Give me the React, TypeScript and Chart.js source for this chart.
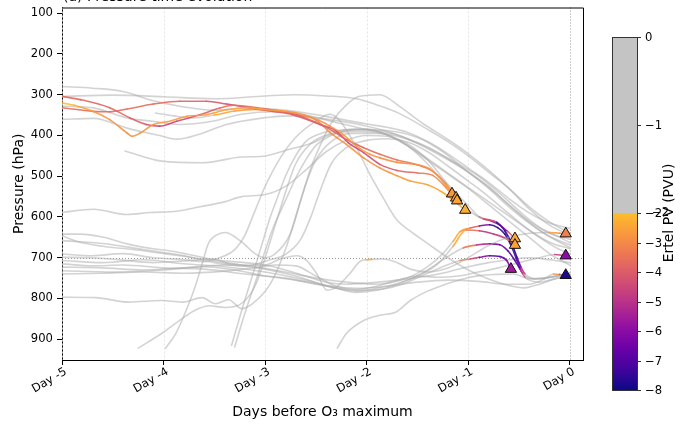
import React, { useEffect, useRef } from "react";
import { Chart, registerables } from "chart.js";

Chart.register(...registerables);

const FONT = "'DejaVu Sans', 'Liberation Sans', sans-serif";

// ---- axes / ticks ----
const X_TICKS = [-5, -4, -3, -2, -1, 0];
const Y_TICKS = [100, 200, 300, 400, 500, 600, 700, 800, 900];
const X_MIN = -5;
const X_MAX = 0.13;
const Y_MIN = 86;
const Y_MAX = 951;
const REF_PRESSURE = 700;
const REF_DAY = 0;
const CB_TICKS = [0, -1, -2, -3, -4, -5, -6, -7, -8];
const PV_MIN = -8;
const PV_CUT = -2;

// ---- trajectories: [day, pressure(hPa), PV(PVU) optional] ----
const trajG1 = [[-5,280],[-4.7,284],[-4.4,292],[-4.1,315],[-3.8,330],[-3.5,338],[-3.2,334],[-2.9,336],[-2.6,345],[-2.3,358],[-2.0,372],[-1.8,380],[-1.6,392],[-1.4,415],[-1.2,445],[-1.0,480],[-0.8,515],[-0.6,555],[-0.4,590],[-0.2,615],[0,628]];
const trajG2 = [[-5,304],[-4.5,301],[-4.0,305],[-3.5,310],[-3.0,303],[-2.7,300],[-2.4,303],[-2.1,310],[-1.9,325],[-1.67,347],[-1.4,385],[-1.2,415],[-1.0,450],[-0.8,490],[-0.6,530],[-0.4,575],[-0.2,612],[0,640]];
const trajU3 = [[-5,361],[-4.69,358],[-4.36,382],[-4.04,400],[-3.87,409],[-3.65,397],[-3.38,373],[-3.05,358],[-2.73,352],[-2.4,360],[-2.1,372],[-1.8,390],[-1.5,420],[-1.2,460],[-1.0,490],[-0.8,525],[-0.6,570],[-0.4,610],[-0.2,640],[0,655]];
const trajU4 = [[-5,328],[-4.68,333],[-4.34,358],[-4.11,365],[-3.85,373],[-3.52,365],[-3.23,348],[-2.9,342],[-2.6,350],[-2.3,368],[-2.0,385],[-1.7,398],[-1.4,430],[-1.1,470],[-0.9,500],[-0.7,540],[-0.5,585],[-0.3,625],[-0.1,650],[0,663]];
const trajLa = [[-5,642],[-4.82,642],[-4.59,650],[-4.36,666],[-4.1,678],[-3.94,683],[-3.77,691],[-3.5,705],[-3.2,712],[-3.0,718],[-2.8,730],[-2.6,745],[-2.4,760],[-2.2,765],[-2.0,762],[-1.8,758],[-1.6,752],[-1.4,745],[-1.2,735],[-1.0,722],[-0.8,712],[-0.6,705],[-0.4,700],[-0.2,705],[0,712]];
const trajD1 = [[-5,691],[-4.7,695],[-4.4,690],[-4.1,700],[-3.8,705],[-3.6,710],[-3.45,700],[-3.3,680],[-3.2,645],[-3.1,585],[-3.0,525],[-2.85,455],[-2.7,405],[-2.5,365],[-2.36,348],[-2.26,365],[-2.1,430],[-1.97,495],[-1.84,552],[-1.71,605],[-1.57,635],[-1.4,665],[-1.2,700],[-1.0,730],[-0.8,752],[-0.6,768],[-0.45,774],[-0.3,765],[-0.15,752],[0,742]];
const trajAsc1 = [[-4.25,922],[-4.02,886],[-3.82,850],[-3.69,829],[-3.55,818],[-3.4,822],[-3.25,815],[-3.1,770],[-3.0,700],[-2.9,620],[-2.8,540],[-2.7,470],[-2.55,420],[-2.35,395],[-2.1,385],[-1.8,388],[-1.5,405],[-1.25,440],[-1.0,490],[-0.8,530],[-0.6,575],[-0.4,615],[-0.2,648],[0,668]];
const trajL800 = [[-5,797],[-4.67,798],[-4.34,809],[-4.02,805],[-3.82,809],[-3.62,798],[-3.49,813],[-3.36,803],[-3.23,825],[-3.12,812],[-2.95,765],[-2.8,680],[-2.7,600],[-2.6,520],[-2.5,460],[-2.35,415],[-2.15,395],[-1.9,395],[-1.7,402],[-1.4,428],[-1.15,465],[-0.9,508],[-0.7,548],[-0.5,592],[-0.3,632],[-0.1,662],[0,675]];
const trajAsc2 = [[-3.98,922],[-3.88,886],[-3.79,837],[-3.69,772],[-3.62,715],[-3.56,666],[-3.46,642],[-3.39,638],[-3.29,650],[-3.2,668],[-3.1,690],[-3.0,700],[-2.9,690],[-2.75,640],[-2.65,560],[-2.55,480],[-2.45,420],[-2.35,370],[-2.2,325],[-2.07,304],[-1.87,300],[-1.67,330],[-1.45,370],[-1.2,410],[-1.0,445],[-0.8,485],[-0.6,530],[-0.4,580],[-0.2,620],[0,645]];
const trajAsc3 = [[-3.33,915],[-3.23,829],[-3.13,748],[-3.03,666],[-2.95,601],[-2.89,560],[-2.8,500],[-2.7,450],[-2.6,415],[-2.45,395],[-2.3,388],[-2.1,385],[-1.9,390],[-1.7,410],[-1.5,440],[-1.3,475],[-1.1,510],[-0.9,545],[-0.7,580],[-0.5,615],[-0.3,650],[-0.1,680],[0,690]];
const trajAsc4 = [[-3.3,919],[-3.2,837],[-3.08,748],[-3.0,683],[-2.92,626],[-2.8,560],[-2.7,505],[-2.6,460],[-2.5,425],[-2.35,400],[-2.2,388],[-2.0,385],[-1.8,398],[-1.6,425],[-1.4,460],[-1.2,495],[-1.0,530],[-0.8,570],[-0.6,610],[-0.4,650],[-0.2,690],[0,718]];
const trajLi = [[-5,658],[-4.6,665],[-4.2,680],[-3.8,695],[-3.5,712],[-3.2,720],[-2.95,705],[-2.8,692],[-2.65,655],[-2.55,600],[-2.45,530],[-2.35,470],[-2.2,430],[-2.0,412],[-1.8,408],[-1.6,416],[-1.4,440],[-1.2,475],[-1.0,512],[-0.8,550],[-0.6,592],[-0.4,632],[-0.2,662],[0,678]];
const trajAsc5 = [[-2.29,922],[-2.2,886],[-2.03,854],[-1.87,841],[-1.71,833],[-1.57,805],[-1.4,782],[-1.21,764],[-1.05,752],[-0.89,744],[-0.72,741],[-0.56,740],[-0.39,752],[-0.2,748],[0,740]];

const trajO1 = [[-5,320,-2.3],[-4.96,322,-1.8],[-4.92,324,-2.3],[-4.88,326,-1.8],[-4.84,329,-2.4],[-4.69,341,-2.6],[-4.53,361,-2.8],[-4.36,394,-2.9],[-4.31,402,-2.9],[-4.23,394,-2.8],[-4.1,373,-2.7],[-3.94,365,-2.6],[-3.77,353,-2.7],[-3.58,349,-2.5],[-3.38,337,-2.6],[-3.18,332,-2.4],[-2.99,337,-2.5],[-2.79,341,-2.7],[-2.62,349,-2.8],[-2.49,361,-2.9],[-2.36,377,-2.8],[-2.23,398,-2.7],[-2.1,426,-2.6],[-1.97,446,-2.7],[-1.87,455,-2.8],[-1.7,466,-2.9],[-1.5,472,-2.9],[-1.38,482,-2.8],[-1.28,503,-2.7],[-1.16,543,-2.7]];
const trajR1 = [[-5,304,-3.7],[-4.82,312,-3.8],[-4.53,332,-3.8],[-4.33,357,-3.7],[-4.17,373,-4.2],[-4.04,377,-4.6],[-3.87,365,-4.5],[-3.64,349,-4.3],[-3.44,332,-3.6],[-3.31,326,-3.5],[-3.02,334,-3.6],[-2.69,349,-3.8],[-2.49,369,-3.9],[-2.36,385,-3.8],[-2.2,410,-3.9],[-2.03,430,-3.8],[-1.87,446,-3.6],[-1.7,460,-3.5],[-1.5,472,-3.4],[-1.35,488,-3.2],[-1.22,518,-3.0],[-1.12,553,-2.7]];
const trajR2 = [[-5,332,-3.6],[-4.69,341,-3.7],[-4.53,342,-3.7],[-4.36,335,-3.6],[-4.1,323,-3.6],[-3.84,316,-3.7],[-3.58,316,-3.9],[-3.38,323,-4.4],[-3.18,331,-4.2],[-2.92,341,-3.9],[-2.73,349,-4.0],[-2.46,373,-4.1],[-2.3,389,-4.3],[-2.18,418,-4.4],[-2.03,442,-4.5],[-1.87,471,-4.3],[-1.7,486,-4.0],[-1.5,492,-3.6],[-1.35,498,-3.2],[-1.22,528,-2.9],[-1.11,560,-2.6]];
const trajO2 = [[-4.08,345],[-3.9,352],[-3.7,357],[-3.5,350,-2.3],[-3.3,340,-2.6],[-3.1,336,-2.8],[-2.9,340,-2.9],[-2.7,348,-3.0],[-2.5,362,-3.0],[-2.36,393,-2.9],[-2.2,422,-2.8],[-2.03,455,-2.8],[-1.87,480,-2.7],[-1.7,499,-2.7],[-1.57,512,-2.6],[-1.4,521,-2.5],[-1.25,540,-2.4],[-1.03,583,-2.3]];
const trajLb = [[-5,699],[-4.7,700],[-4.4,706],[-4.1,712],[-3.8,708],[-3.5,703],[-3.35,715],[-3.02,719],[-2.85,703],[-2.69,695],[-2.59,707],[-2.49,740],[-2.39,780],[-2.3,772],[-2.17,740],[-2.06,708],[-2.0,705,-2.4],[-1.95,704,-2.4],[-1.84,703],[-1.71,711],[-1.57,728],[-1.4,735],[-1.2,725],[-1.0,700],[-0.8,670],[-0.6,650],[-0.4,640],[-0.2,638,-2.4],[-0.1,640,-2.8],[-0.04,641,-3.1]];
const trajLc = [[-5,707],[-4.6,712],[-4.2,705],[-3.8,715],[-3.4,722],[-3.0,735],[-2.6,755],[-2.3,775],[-2.1,785],[-1.9,780],[-1.7,765],[-1.5,745],[-1.3,715],[-1.15,672,-2.2],[-1.02,632,-2.6],[-0.89,634,-4.5],[-0.75,642,-5.5],[-0.62,654,-4.0],[-0.54,669,-2.8]];
const trajLd = [[-5,715],[-4.7,720],[-4.4,718],[-4.0,725],[-3.6,728],[-3.2,740],[-2.8,750],[-2.5,765],[-2.2,778],[-2.0,780],[-1.8,775],[-1.6,760],[-1.4,738],[-1.25,722],[-1.08,707,-2.5],[-0.98,703,-3.8],[-0.89,699,-5.2],[-0.79,695,-6.8],[-0.69,697,-7.2],[-0.62,707,-6.5],[-0.58,728,-5.8]];
const trajLe = [[-5,723],[-4.6,725],[-4.2,730],[-3.8,725],[-3.4,718],[-3.0,728],[-2.7,745],[-2.4,768],[-2.1,782],[-1.9,775],[-1.6,755],[-1.4,730],[-1.25,705],[-1.05,676,-2.6],[-0.92,669,-4.3],[-0.79,666,-6.0],[-0.69,668,-6.6],[-0.61,683,-7.0],[-0.54,707,-7.3],[-0.49,728,-6.5],[-0.46,740,-3.5],[-0.35,752],[-0.2,748],[0,738]];
const trajLh = [[-5,646],[-4.85,660],[-4.6,672],[-4.3,680],[-4.0,690],[-3.7,700],[-3.4,712],[-3.1,722],[-2.8,735],[-2.5,750],[-2.2,760],[-1.9,765],[-1.6,750],[-1.4,722],[-1.25,690],[-1.15,660,-2.2],[-1.08,636,-2.5],[-0.98,627,-2.9],[-0.89,622,-5.0],[-0.79,619,-7.4],[-0.71,626,-7.7],[-0.64,642,-7.6],[-0.57,675,-7.5],[-0.52,707,-7.0],[-0.48,732,-6.0],[-0.44,748,-3.0],[-0.3,760],[-0.15,752],[0,745]];
const trajU5 = [[-4.38,438],[-4.02,463],[-3.62,467],[-3.23,453],[-3.02,451],[-2.76,434],[-2.53,418],[-2.36,398],[-2.1,390],[-1.8,398],[-1.6,425],[-1.4,470],[-1.2,530],[-1.0,583],[-0.85,605,-2.4],[-0.72,613,-6.5],[-0.64,634,-7.7],[-0.57,666,-7.8],[-0.52,699,-7.5],[-0.48,723,-6.5],[-0.44,740,-3.5],[-0.3,752],[-0.15,746],[0,737]];
const trajL590 = [[-5,589],[-4.69,581],[-4.36,594],[-4.13,589],[-3.87,586],[-3.64,575],[-3.4,563],[-3.23,550],[-3.0,545],[-2.8,525],[-2.6,485],[-2.4,440],[-2.2,412],[-2.0,400],[-1.8,402],[-1.6,420],[-1.4,460],[-1.2,520],[-1.0,572],[-0.89,600,-2.5],[-0.79,608,-5.5],[-0.69,620,-7.0],[-0.61,636,-5.0],[-0.54,653,-3.0]];
const trajLf = [[-5,732],[-4.5,735],[-4.0,730],[-3.6,722],[-3.3,730],[-3.0,745],[-2.7,755],[-2.4,768],[-2.1,775],[-1.8,770],[-1.5,760],[-1.2,755],[-0.9,758],[-0.6,765],[-0.4,765],[-0.25,752],[-0.16,740,-2.6],[-0.1,741,-3.0],[-0.04,743,-7.8]];
const trajLg = [[-5,740],[-4.6,738],[-4.2,735],[-3.8,738],[-3.4,733],[-3.1,725],[-2.9,718],[-2.7,720],[-2.5,745],[-2.3,770],[-2.1,778],[-1.9,770],[-1.7,755],[-1.5,745],[-1.3,748],[-1.1,745],[-0.9,735],[-0.7,725],[-0.5,712],[-0.3,700],[-0.15,692,-3.8],[-0.04,695,-5.5]];

const GRAY_TRAJ = [trajG1, trajG2, trajU3, trajU4, trajLa, trajD1, trajAsc1, trajL800, trajAsc2, trajAsc3, trajAsc4, trajLi, trajAsc5];
const PV_TRAJ = [trajO1, trajR1, trajR2, trajO2, trajLb, trajLc, trajLd, trajLe, trajLh, trajU5, trajL590, trajLf, trajLg];

// end markers: [day, pressure, PV]
const END_MARKERS = [[-1.16,543,-2.7],[-1.12,553,-2.5],[-1.11,560,-2.5],[-1.03,583,-2.3],[-0.54,653,-2.4],[-0.54,669,-2.5],[-0.58,728,-5.6],[-0.04,641,-3.2],[-0.04,695,-6.0],[-0.04,743,-7.8]];

// ---- colour map (plasma, truncated) ----
const PLASMA = [[13,8,135],[65,4,157],[106,0,168],[143,13,164],[177,42,144],[204,71,120],[225,100,98],[242,132,75],[252,166,54],[252,206,37],[240,249,33]];
const CMAP_TOP = 0.86;
const GRAY_LINE = "rgba(170,170,170,0.52)";
const CB_GRAY = "#c4c4c4";

function plasma(t: number, a = 1) {
  t = Math.max(0, Math.min(1, t));
  const s = t * 10;
  const i = Math.min(9, Math.floor(s));
  const f = s - i;
  const c0 = PLASMA[i], c1 = PLASMA[i + 1];
  const r = Math.round(c0[0] + (c1[0] - c0[0]) * f);
  const g = Math.round(c0[1] + (c1[1] - c0[1]) * f);
  const b = Math.round(c0[2] + (c1[2] - c0[2]) * f);
  return `rgba(${r},${g},${b},${a})`;
}
function pvColor(pv: number, a = 1) {
  return plasma(((pv - PV_MIN) / (PV_CUT - PV_MIN)) * CMAP_TOP, a);
}

// colorbar geometry
const CB = { x: 612, w: 25, top: 37, mid: 213, bottom: 390 };
function cbY(v: number) {
  if (v >= PV_CUT) return CB.top + ((0 - v) / (0 - PV_CUT)) * (CB.mid - CB.top);
  return CB.mid + ((PV_CUT - v) / (PV_CUT - PV_MIN)) * (CB.bottom - CB.mid);
}

function makeLine(traj: number[][], order: number) {
  return {
    type: "line" as const,
    data: traj.map((p) => ({ x: p[0], y: p[1] })),
    borderColor: GRAY_LINE,
    borderWidth: 1.6,
    pointRadius: 0,
    pointHoverRadius: 0,
    fill: false,
    cubicInterpolationMode: "monotone" as const,
    borderCapStyle: "round" as const,
    borderJoinStyle: "round" as const,
    order,
    segment: {
      borderColor: (ctx: any) => {
        const a = traj[ctx.p0DataIndex][2];
        const b = traj[ctx.p1DataIndex][2];
        if (a === undefined || b === undefined) return undefined;
        const v = (a + b) / 2;
        if (v > PV_CUT) return undefined;
        return pvColor(v, 0.9);
      },
    },
  };
}

const decoPlugin = {
  id: "deco",
  beforeDraw(chart: any) {
    const { ctx } = chart;
    ctx.save();
    ctx.fillStyle = "#fff";
    ctx.fillRect(0, 0, chart.width, chart.height);
    ctx.restore();
  },
  beforeDatasetsDraw(chart: any) {
    const { ctx, chartArea: a, scales } = chart;
    ctx.save();
    ctx.strokeStyle = "#dedede";
    ctx.lineWidth = 0.8;
    ctx.setLineDash([2, 2]);
    for (const t of X_TICKS) {
      if (t === REF_DAY) continue;
      const x = Math.round(scales.x.getPixelForValue(t)) + 0.5;
      ctx.beginPath();
      ctx.moveTo(x, a.top);
      ctx.lineTo(x, a.bottom);
      ctx.stroke();
    }
    ctx.strokeStyle = "#9a9a9a";
    ctx.lineWidth = 1;
    ctx.setLineDash([1, 2]);
    const y7 = Math.round(scales.y.getPixelForValue(REF_PRESSURE)) + 0.5;
    ctx.beginPath();
    ctx.moveTo(a.left, y7);
    ctx.lineTo(a.right, y7);
    ctx.stroke();
    const x0 = Math.round(scales.x.getPixelForValue(REF_DAY)) + 0.5;
    ctx.beginPath();
    ctx.moveTo(x0, a.top);
    ctx.lineTo(x0, a.bottom);
    ctx.stroke();
    ctx.restore();
  },
  afterDraw(chart: any) {
    const { ctx, chartArea: a } = chart;
    ctx.save();
    // top & right spines
    ctx.strokeStyle = "#000";
    ctx.lineWidth = 1;
    ctx.beginPath();
    ctx.moveTo(a.left, a.top + 0.5);
    ctx.lineTo(a.right + 0.5, a.top + 0.5);
    ctx.lineTo(a.right + 0.5, a.bottom);
    ctx.stroke();

    // clipped panel title
    ctx.fillStyle = "#000";
    ctx.font = `14px ${FONT}`;
    ctx.textAlign = "left";
    ctx.textBaseline = "alphabetic";
    ctx.fillText("(a) Pressure time evolution", 63, 0.5);

    // axis titles
    ctx.textAlign = "center";
    ctx.textBaseline = "middle";
    ctx.fillText("Days before O\u2083 maximum", (a.left + a.right) / 2, 412);
    ctx.save();
    ctx.translate(19, (a.top + a.bottom) / 2);
    ctx.rotate(-Math.PI / 2);
    ctx.fillText("Pressure (hPa)", 0, 0);
    ctx.restore();

    // colorbar
    ctx.fillStyle = CB_GRAY;
    ctx.fillRect(CB.x, CB.top, CB.w, CB.mid - CB.top);
    const grad = ctx.createLinearGradient(0, CB.mid, 0, CB.bottom);
    for (let i = 0; i <= 24; i++) {
      const v = PV_CUT - ((PV_CUT - PV_MIN) * i) / 24;
      grad.addColorStop(i / 24, pvColor(v));
    }
    ctx.fillStyle = grad;
    ctx.fillRect(CB.x, CB.mid, CB.w, CB.bottom - CB.mid);
    ctx.strokeStyle = "#333";
    ctx.lineWidth = 1;
    ctx.strokeRect(CB.x + 0.5, CB.top + 0.5, CB.w, CB.bottom - CB.top);
    ctx.font = `11.6px ${FONT}`;
    ctx.fillStyle = "#000";
    ctx.textAlign = "left";
    ctx.textBaseline = "middle";
    for (const v of CB_TICKS) {
      const y = Math.round(cbY(v)) + 0.5;
      ctx.beginPath();
      ctx.moveTo(CB.x + CB.w, y);
      ctx.lineTo(CB.x + CB.w + 4, y);
      ctx.stroke();
      const lbl = v === 0 ? "0" : "\u2212" + Math.abs(v);
      ctx.fillText(lbl, 645, y);
      if (v === PV_CUT) ctx.fillText(lbl, 652, y - 1);
    }
    ctx.font = `14px ${FONT}`;
    ctx.textAlign = "center";
    ctx.save();
    ctx.translate(669, cbY(PV_CUT));
    ctx.rotate(-Math.PI / 2);
    ctx.fillText("Ertel PV (PVU)", 0, 0);
    ctx.restore();
    ctx.restore();
  },
};

export default function App() {
  const ref = useRef<HTMLCanvasElement>(null);
  useEffect(() => {
    const datasets: any[] = [];
    datasets.push({
      type: "scatter",
      data: END_MARKERS.map((m) => ({ x: m[0], y: m[1] })),
      pointStyle: "triangle",
      pointRadius: 6.5,
      pointHoverRadius: 6.5,
      backgroundColor: END_MARKERS.map((m) => pvColor(m[2])),
      borderColor: "#111",
      borderWidth: 1,
      order: 0,
    });
    PV_TRAJ.forEach((t) => datasets.push(makeLine(t, 1)));
    GRAY_TRAJ.forEach((t) => datasets.push(makeLine(t, 2)));

    const tickFont = { family: FONT, size: 11.6 };
    const chart = new Chart(ref.current as HTMLCanvasElement, {
      type: "line",
      data: { datasets },
      options: {
        responsive: false,
        animation: false,
        devicePixelRatio: 1,
        events: [],
        layout: { padding: { top: 6, right: 112, left: 0, bottom: 0 } },
        plugins: { legend: { display: false }, tooltip: { enabled: false }, title: { display: false } },
        scales: {
          x: {
            type: "linear",
            min: X_MIN,
            max: X_MAX,
            afterBuildTicks: (s: any) => { s.ticks = X_TICKS.map((v) => ({ value: v })); },
            afterFit: (s: any) => { s.height = 68; s.paddingLeft = 0; s.paddingRight = 0; },
            ticks: {
              font: tickFont,
              color: "#000",
              minRotation: 30,
              maxRotation: 30,
              autoSkip: false,
              padding: 0,
              labelOffset: 4,
              callback: (v: any) => "Day " + v,
            },
            grid: { drawOnChartArea: false, drawTicks: true, tickLength: 5, color: "#000", tickColor: "#000" },
            border: { display: true, color: "#000", width: 1 },
          },
          y: {
            type: "linear",
            reverse: true,
            min: Y_MIN,
            max: Y_MAX,
            afterBuildTicks: (s: any) => { s.ticks = Y_TICKS.map((v) => ({ value: v })); },
            afterFit: (s: any) => { s.width = 62; s.paddingTop = 0; s.paddingBottom = 0; },
            ticks: { font: tickFont, color: "#000", padding: 4, callback: (v: any) => String(v) },
            grid: { drawOnChartArea: false, drawTicks: true, tickLength: 5, color: "#000", tickColor: "#000" },
            border: { display: true, color: "#000", width: 1 },
          },
        },
      },
      plugins: [decoPlugin],
    } as any);
    return () => chart.destroy();
  }, []);
  return (
    <div style={{ position: "fixed", left: 0, top: 0, width: 695, height: 428, background: "#fff" }}>
      <canvas ref={ref} width={695} height={428} style={{ display: "block", width: 695, height: 428 }} />
    </div>
  );
}
